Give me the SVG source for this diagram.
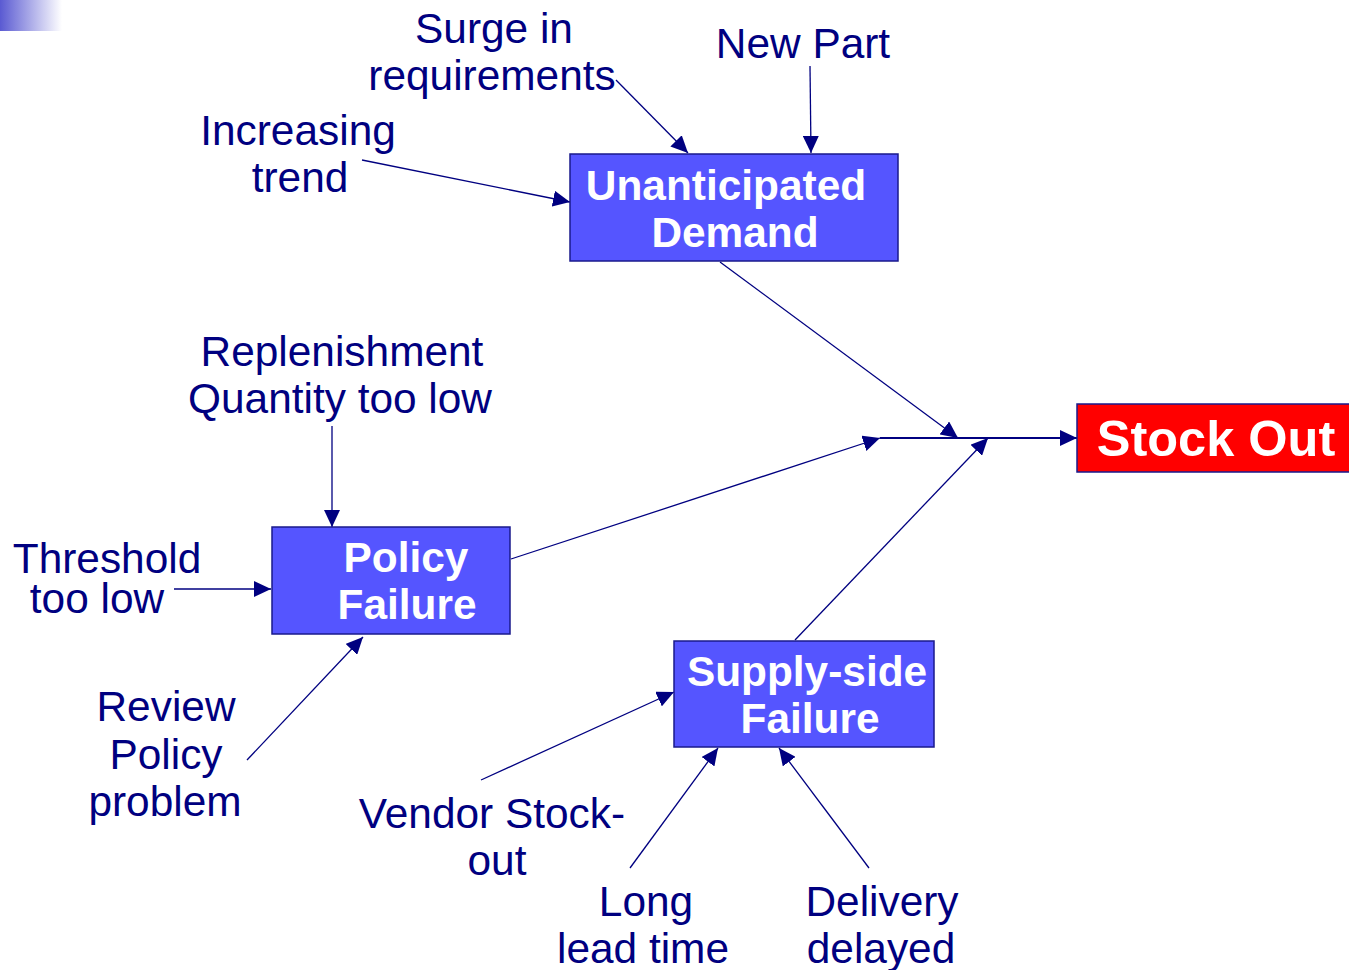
<svg xmlns="http://www.w3.org/2000/svg" width="1349" height="970" viewBox="0 0 1349 970">
<defs>
<linearGradient id="corner" x1="0" y1="0" x2="1" y2="0">
<stop offset="0" stop-color="#5a5ad2"/>
<stop offset="1" stop-color="#ffffff"/>
</linearGradient>
<marker id="arr" markerUnits="userSpaceOnUse" markerWidth="17" markerHeight="16" refX="17" refY="8" orient="auto">
<path d="M0,0 L17,8 L0,16 Z" fill="#000080"/>
</marker>
</defs>
<style>
.lbl{font-family:"Liberation Sans",Arial,sans-serif;font-size:42.4px;fill:#000080;text-anchor:middle}
.box{fill:#5555ff;stroke:#1a1a8c;stroke-width:1.5}
.bt{font-family:"Liberation Sans",Arial,sans-serif;font-size:42.4px;font-weight:bold;fill:#ffffff;text-anchor:middle}
.con{stroke:#000080;stroke-width:1.3;fill:none;marker-end:url(#arr)}
</style>
<rect x="0" y="0" width="62" height="31" fill="url(#corner)"/>

<g id="connectors">
<line class="con" x1="616" y1="80" x2="688" y2="153"/>
<line class="con" x1="810" y1="66" x2="811" y2="153"/>
<line class="con" x1="362" y1="160" x2="570" y2="202"/>
<line class="con" x1="720" y1="262" x2="958" y2="438"/>
<line class="con" x1="511" y1="559" x2="880" y2="438"/>
<line class="con" x1="880" y1="438" x2="1077" y2="438" style="stroke-width:1.8"/>
<line class="con" x1="795" y1="640" x2="988" y2="438"/>
<line class="con" x1="332" y1="426" x2="332" y2="527"/>
<line class="con" x1="174" y1="589" x2="271" y2="589"/>
<line class="con" x1="247" y1="760" x2="363" y2="637"/>
<line class="con" x1="481" y1="780" x2="674" y2="692"/>
<line class="con" x1="630" y1="868" x2="718" y2="748"/>
<line class="con" x1="869" y1="868" x2="779" y2="748"/>
</g>

<g id="unanticipated">
<rect class="box" x="570" y="154" width="328" height="107"/>
<text class="bt" x="726" y="200">Unanticipated</text>
<text class="bt" x="735" y="247">Demand</text>
</g>
<g id="policy">
<rect class="box" x="272" y="527" width="238" height="107"/>
<text class="bt" x="406" y="572">Policy</text>
<text class="bt" x="407" y="619">Failure</text>
</g>
<g id="supply">
<rect class="box" x="674" y="641" width="260" height="106"/>
<text class="bt" x="807" y="686">Supply-side</text>
<text class="bt" x="810" y="733">Failure</text>
</g>
<g id="stockout">
<rect x="1077" y="404" width="280" height="68" fill="#ff0000" stroke="#1a1a8c" stroke-width="1.5"/>
<text class="bt" x="1216" y="456" style="font-size:50.5px">Stock Out</text>
</g>

<g id="surge"><text class="lbl" x="494" y="43">Surge in</text><text class="lbl" x="492" y="90">requirements</text></g>
<g id="newpart"><text class="lbl" x="803" y="58">New Part</text></g>
<g id="increasing"><text class="lbl" x="298" y="145">Increasing</text><text class="lbl" x="300" y="192">trend</text></g>
<g id="replenishment"><text class="lbl" x="342" y="366">Replenishment</text><text class="lbl" x="340" y="413">Quantity too low</text></g>
<g id="threshold"><text class="lbl" x="107" y="573">Threshold</text><text class="lbl" x="97" y="613">too low</text></g>
<g id="review"><text class="lbl" x="166" y="721">Review</text><text class="lbl" x="166" y="769">Policy</text><text class="lbl" x="165" y="816">problem</text></g>
<g id="vendor"><text class="lbl" x="492" y="828">Vendor Stock-</text><text class="lbl" x="497" y="875">out</text></g>
<g id="long"><text class="lbl" x="646" y="916">Long</text><text class="lbl" x="643" y="963">lead time</text></g>
<g id="delivery"><text class="lbl" x="882" y="916">Delivery</text><text class="lbl" x="881" y="963">delayed</text></g>
</svg>
